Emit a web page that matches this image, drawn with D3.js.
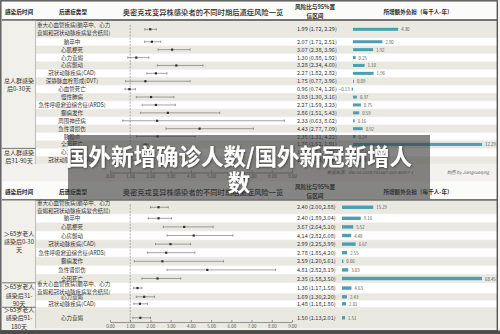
<!DOCTYPE html>
<html>
<head>
<meta charset="utf-8">
<script src="https://cdn.jsdelivr.net/npm/d3@7"></script>
<style>
body { margin: 0; background: #fff; }
svg text { font-family: "Noto Sans CJK SC", "Noto Sans", sans-serif; }
</style>
</head>
<body>
<div id="chart"></div>
<script>
// ---- data ----
const headers = ["感染后时间", "后遗症类型", "奥密克戎变异株感染者的不同时期后遗症风险一览", "风险比与95%置", "信区间", "所增额外负担（每千人-年）"];
const axisTicks = [0, 1, 2, 3, 4, 5, 6, 7, 8, 9];

// panel 1: whole population
const periods1 = [["总人群感染", "后0-30天"], ["总人群感染", "后31-90天"]];
const sizes1 = [15, 2];
const outcomes1 = ["重大心血管疾病(脑卒中、心力衰竭和冠状动脉疾病复合结局)", "脑卒中", "心肌梗死", "心力衰竭", "心房颤动",
  "冠状动脉疾病(CAD)", "深静脉血栓形成(DVT)", "心血管死亡", "慢性肺病", "急性呼吸窘迫综合征(ARDS)", "癫痫发作",
  "周围神经病", "急性肾损伤", "胰腺炎", "全因死亡", "心力衰竭", "冠状动脉疾病(CAD)"];
const hr1 = [1.99, 2.07, 3.07, 1.30, 3.28, 2.27, 1.75, 0.96, 2.03, 2.27, 2.86, 2.33, 4.43, 2.35, 1.76, 1.47, 1.34];
const lo1 = [1.72, 1.71, 2.38, 0.88, 2.34, 1.82, 0.77, 0.74, 1.30, 1.59, 1.51, 0.63, 2.77, 1.31, 1.62, 1.13, 1.13];
const hi1 = [2.29, 2.51, 3.96, 1.92, 4.60, 2.82, 3.96, 1.26, 3.16, 3.23, 5.43, 8.62, 7.09, 4.22, 1.91, 1.91, 1.59];
const burden1 = [4.30, 2.80, 1.92, 0.25, 1.10, 1.96, 0.09, -0.13, 0.37, 0.75, 0.59, 0.16, 0.92, 0.24, 12.29, 0.49, 0.84];

// panel 2: over 65
const periods2 = [["＞65岁老人", "感染后0-30", "天"], ["＞65岁老人", "感染后31-", "90天"], ["＞65岁老人", "感染后91-", "180天"]];
const sizes2 = [9, 3, 1];
const outcomes2 = ["重大心血管疾病(脑卒中、心力衰竭和冠状动脉疾病复合结局)", "脑卒中", "心肌梗死", "心房颤动",
  "冠状动脉疾病(CAD)", "急性呼吸窘迫综合征(ARDS)", "癫痫发作", "急性肾损伤", "全因死亡",
  "重大心血管疾病(脑卒中、心力衰竭和冠状动脉疾病复合结局)", "心力衰竭", "冠状动脉疾病(CAD)", "心力衰竭"];
const hr2 = [2.40, 2.40, 3.67, 4.14, 2.99, 2.78, 2.59, 4.81, 2.35, 1.36, 1.69, 1.48, 1.50];
const lo2 = [2.00, 1.89, 2.64, 2.82, 2.25, 1.85, 1.20, 2.82, 1.58, 1.17, 1.30, 1.18, 1.13];
const hi2 = [2.88, 3.04, 5.10, 6.08, 3.99, 4.20, 5.61, 8.19, 3.50, 1.58, 2.20, 1.86, 2.01];
const burden2 = [15.29, 9.16, 5.52, 4.48, 6.67, 2.55, 0.66, 3.03, 68.45, 4.63, 2.43, 2.01, 1.51];

const sourceText = "数据来源：doi:10.1038/s41467-023-40857-1";
const creditText = "制图 by Jiangruoqing";
const bannerLines = ["国外新增确诊人数/国外新冠新增人", "数"];

// ---- setup ----
const W = 500, H = 334;
const svg = d3.select("#chart").append("svg")
    .attr("width", W)
    .attr("height", H);

svg.append("rect")
    .attr("width", W).attr("height", H)
    .attr("fill", "#f3f2ee");

const x = d3.scaleLinear().domain([0, 9]).range([110, 292]);
const isTwoLine = t => t.length > 20;

function drawHeader(cy) {
  svg.append("rect").attr("x", 2).attr("y", cy - 10).attr("width", 495).attr("height", 18.5).attr("fill", "#fbfbf9");
  const hx = [19, 73, 203, 315, 315, 418];
  const hy = [cy, cy, cy, cy - 4.5, cy + 4, cy];
  const hs = [5.6, 5.6, 7.3, 5.6, 5.6, 5.6];
  headers.forEach((t, i) => {
    svg.append("text")
        .attr("x", hx[i]).attr("y", hy[i])
        .attr("text-anchor", "middle")
        .attr("dominant-baseline", "central")
        .attr("font-size", hs[i])
        .attr("font-weight", i == 2 ? 500 : 700)
        .attr("fill", "#2b2b2b")
        .text(t);
  });
  svg.append("line")
      .attr("x1", 2).attr("x2", 497)
      .attr("y1", cy + 8.5).attr("y2", cy + 8.5)
      .attr("stroke", "#4a4a4a").attr("stroke-width", 1.3);
}

function drawPanel(p) {
  const n = p.outcomes.length;
  const section = [];
  p.sizes.forEach((s, k) => { for (let j = 0; j < s; j++) section.push(k); });

  // row layout
  const ys = [], tops = [], hs = [];
  let y = p.top;
  for (let i = 0; i < n; i++) {
    const h = p.rowH(section[i], isTwoLine(p.outcomes[i]));
    tops.push(y); hs.push(h); ys.push(y + h / 2);
    y += h;
  }

  // stripes
  svg.append("rect").attr("x", 2).attr("y", p.top).attr("width", 33.5).attr("height", y - p.top).attr("fill", "#f1f0ea");
  svg.selectAll(null).data(d3.range(n)).enter().append("rect")
      .attr("x", 36).attr("width", 461)
      .attr("y", i => tops[i] + 0.3)
      .attr("height", i => hs[i] - 0.6)
      .attr("fill", i => i % 2 == 0 ? "#eae9e1" : "#ffffff");

  svg.append("line").attr("x1", 35.5).attr("x2", 35.5).attr("y1", p.top).attr("y2", y)
      .attr("stroke", "#9a9a9a").attr("stroke-width", 0.6);

  // period labels and separators
  let start = 0;
  p.sizes.forEach((s, k) => {
    const y0 = tops[start], y1 = tops[start + s - 1] + hs[start + s - 1];
    const lines = p.periods[k];
    const cy = (y0 + y1) / 2;
    lines.forEach((t, j) => {
      svg.append("text")
          .attr("x", 19).attr("y", cy + (j - (lines.length - 1) / 2) * p.lineGap)
          .attr("text-anchor", "middle").attr("dominant-baseline", "central")
          .attr("font-size", 6).attr("fill", "#333").text(t);
    });
    if (k > 0) {
      svg.append("line").attr("x1", 2).attr("x2", 35.5).attr("y1", y0).attr("y2", y0)
          .attr("stroke", "#555").attr("stroke-width", 0.8);
    }
    start += s;
  });

  // outcome labels
  p.outcomes.forEach((t, i) => {
    if (isTwoLine(t)) {
      [t.slice(0, 14), t.slice(14)].forEach((l, j) => {
        svg.append("text").attr("x", 37).attr("y", ys[i] + (j ? 4 : -4))
            .attr("dominant-baseline", "central").attr("font-size", 5.5).attr("fill", "#333").text(l);
      });
    } else {
      svg.append("text").attr("x", 72).attr("y", ys[i])
          .attr("text-anchor", "middle").attr("dominant-baseline", "central")
          .attr("font-size", 5.5).attr("fill", "#333").text(t);
    }
  });

  // reference line at HR = 1
  svg.append("line")
      .attr("x1", x(1)).attr("x2", x(1))
      .attr("y1", p.top + 4).attr("y2", p.axisY)
      .attr("stroke", "#777").attr("stroke-width", 0.6)
      .attr("stroke-dasharray", "2,1.2");

  // forest marks
  const g = svg.append("g");
  const idx = d3.range(n);
  g.selectAll(".ci").data(idx).enter().append("line")
      .attr("x1", i => x(p.lo[i])).attr("x2", i => x(p.hi[i]))
      .attr("y1", i => ys[i]).attr("y2", i => ys[i])
      .attr("stroke", "#666").attr("stroke-width", 0.6);
  ["lo", "hi"].forEach(key => {
    g.selectAll(".cap-" + key).data(idx).enter().append("line")
        .attr("x1", i => x(p[key][i])).attr("x2", i => x(p[key][i]))
        .attr("y1", i => ys[i] - 1.2).attr("y2", i => ys[i] + 1.2)
        .attr("stroke", "#666").attr("stroke-width", 0.6);
  });
  g.selectAll(".pt").data(idx).enter().append("rect")
      .attr("x", i => x(p.hr[i]) - 1.1).attr("y", i => ys[i] - 1.1)
      .attr("width", 2.2).attr("height", 2.2)
      .attr("fill", "#2e2e2e");

  // axis
  const ax = svg.append("g")
      .attr("transform", "translate(0," + p.axisY + ")")
      .call(d3.axisBottom(x).tickValues(axisTicks).tickFormat(d3.format(".2f"))
          .tickSizeInner(-2).tickSizeOuter(0).tickPadding(2.5));
  ax.select(".domain").attr("stroke", "#555").attr("stroke-width", 0.6);
  ax.selectAll(".tick line").attr("stroke", "#555").attr("stroke-width", 0.6);
  ax.selectAll(".tick text").attr("font-size", 4.5).attr("fill", "#555");

  // HR text
  const fmt = d3.format(".2f");
  svg.selectAll(null).data(idx).enter().append("text")
      .attr("x", 297).attr("y", i => ys[i])
      .attr("dominant-baseline", "central")
      .attr("font-size", 5.5).attr("fill", "#333")
      .text(i => fmt(p.hr[i]) + " (" + fmt(p.lo[i]) + "," + p.sep + fmt(p.hi[i]) + ")");

  // burden bars
  const bx = d3.scaleLinear().domain([0, d3.max(p.burden)]).range(p.barRange);
  svg.selectAll(null).data(idx).enter().append("rect")
      .attr("x", i => bx(Math.min(0, p.burden[i])))
      .attr("y", i => ys[i] - p.barH / 2)
      .attr("width", i => Math.max(0.8, Math.abs(bx(p.burden[i]) - bx(0))))
      .attr("height", p.barH)
      .attr("fill", "#4aa0b2");
  svg.selectAll(null).data(idx).enter().append("text")
      .attr("x", i => p.burden[i] < 0 ? bx(p.burden[i]) - 2 : bx(p.burden[i]) + 3)
      .attr("y", i => ys[i])
      .attr("text-anchor", i => p.burden[i] < 0 ? "end" : "start")
      .attr("dominant-baseline", "central")
      .attr("font-size", 4.3).attr("fill", "#555")
      .text(i => fmt(p.burden[i]));
}

// ---- panel 1 ----
drawHeader(11.5);
drawPanel({
  top: 20.8, periods: periods1, sizes: sizes1, outcomes: outcomes1,
  hr: hr1, lo: lo1, hi: hi1, burden: burden1, sep: " ",
  rowH: (k, two) => two ? 17 : 7.9,
  lineGap: 8.5, axisY: 172.5, barRange: [353, 482], barH: 3
});

svg.append("text").attr("x", 327).attr("y", 171.5)
    .attr("dominant-baseline", "central").attr("font-size", 4.3)
    .attr("font-style", "italic").attr("fill", "#666").text(sourceText);
svg.append("text").attr("x", 447).attr("y", 171.5)
    .attr("dominant-baseline", "central").attr("font-size", 4.3)
    .attr("font-style", "italic").attr("fill", "#666").text(creditText);

// ---- panel 2 ----
drawHeader(191.5);
drawPanel({
  top: 200.5, periods: periods2, sizes: sizes2, outcomes: outcomes2,
  hr: hr2, lo: lo2, hi: hi2, burden: burden2, sep: "",
  rowH: (k, two) => k == 0 ? (two ? 13.5 : 8.6) : k == 1 ? (two ? 10.5 : 7) : 21,
  lineGap: 8.3, axisY: 322, barRange: [342, 482], barH: 3.4
});

// frame
svg.append("rect").attr("x", 0.8).attr("y", 0.8).attr("width", 496.5).attr("height", 330)
    .attr("fill", "none").attr("stroke", "#555").attr("stroke-width", 1.4);
svg.append("rect").attr("x", 0).attr("y", 330.5).attr("width", W).attr("height", 3.5).attr("fill", "#4d4d4d");

// banner overlay
const defs = svg.append("defs");
defs.append("filter").attr("id", "shadow")
  .append("feDropShadow").attr("dx", 0.8).attr("dy", 0.8).attr("stdDeviation", 0.8)
  .attr("flood-color", "#000").attr("flood-opacity", 0.5);

svg.append("rect")
    .attr("x", 68).attr("y", 135).attr("width", 362).attr("height", 64)
    .attr("fill", "#3c3c3c").attr("opacity", 0.62);
bannerLines.forEach((t, j) => {
  svg.append("text")
      .attr("x", 239).attr("y", 155 + j * 26)
      .attr("text-anchor", "middle").attr("dominant-baseline", "central")
      .attr("font-size", 22.5).attr("font-weight", 700)
      .attr("fill", "#ffffff").attr("filter", "url(#shadow)")
      .text(t);
});
</script>
</body>
</html>
